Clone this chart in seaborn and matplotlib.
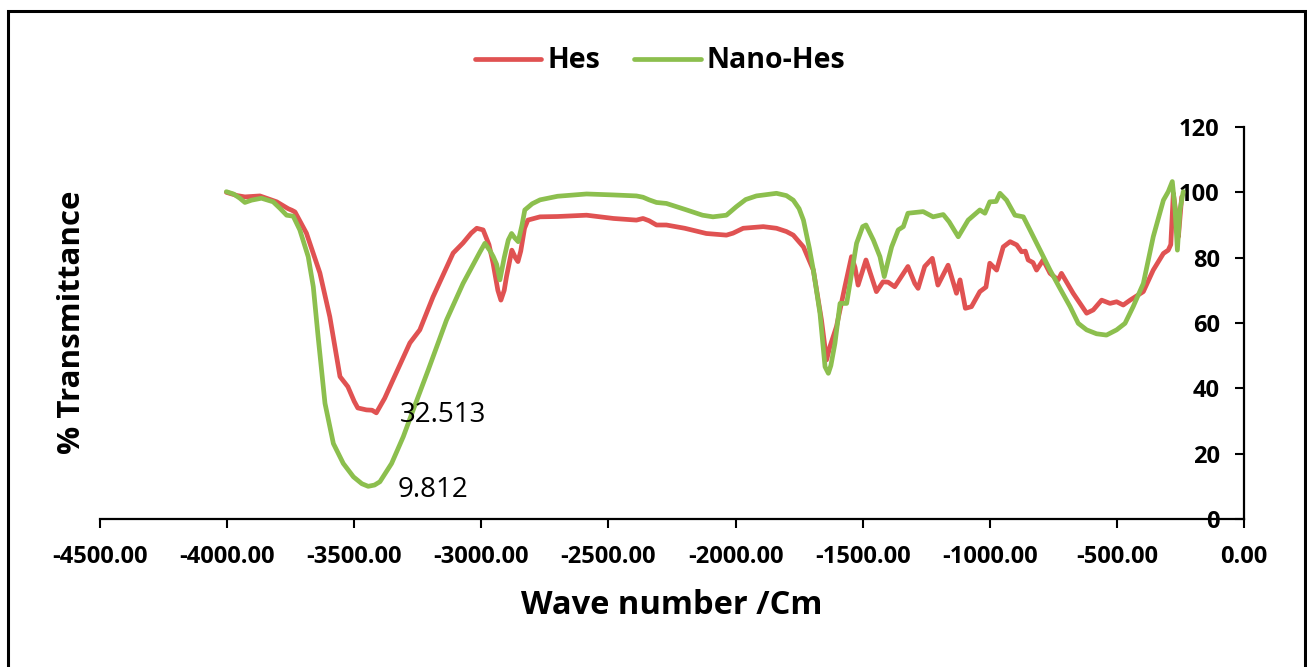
import matplotlib
matplotlib.use("Agg")
import matplotlib.pyplot as plt
import seaborn as sns
import pandas as pd
from matplotlib.patches import Rectangle

# ---------------- data ----------------
hes_x = [-4003, -3960, -3930, -3871, -3805, -3760, -3745, -3733, -3688, -3635, -3596, -3556,
         -3525, -3500, -3486, -3452, -3430, -3413, -3380, -3348, -3281, -3242, -3190, -3111,
         -3072, -3040, -3018, -2993, -2970, -2954, -2935, -2923, -2910, -2901, -2880, -2866,
         -2856, -2845, -2830, -2817, -2769, -2700, -2586, -2480, -2390, -2364, -2340, -2311,
         -2272, -2200, -2115, -2036, -2010, -1970, -1891, -1839, -1800, -1773, -1733, -1694,
         -1662, -1642, -1629, -1603, -1570, -1544, -1530, -1518, -1487, -1446, -1420, -1400,
         -1374, -1322, -1295, -1282, -1256, -1226, -1204, -1164, -1131, -1117, -1096, -1072,
         -1039, -1015, -1000, -973, -947, -920, -894, -875, -860, -849, -830, -816, -790,
         -763, -731, -718, -672, -645, -619, -593, -560, -527, -501, -475, -448, -396, -357,
         -317, -298, -288, -278, -265, -258, -245]
hes_y = [100, 99.0, 98.6, 98.9, 97.1, 95.0, 94.5, 94, 87.5, 75.3, 61.9, 43.6,
         40.5, 36, 34, 33.4, 33.3, 32.5, 37, 42.5, 53.9, 57.9, 68, 81.4,
         84.5, 87.5, 89, 88.5, 84, 78.4, 70, 67, 70, 74.2, 82.3, 80,
         78.8, 82, 89, 91.5, 92.5, 92.6, 93, 92, 91.5, 92, 91.3, 90,
         90, 89, 87.4, 86.9, 87.5, 89, 89.5, 89, 88, 86.9, 83.3, 76.2,
         60.9, 48.7, 52.7, 58.9, 71.1, 80.3, 77, 71.6, 79.3, 69.6, 72.6, 72.5,
         71.1, 77.3, 72.1, 70.6, 77.3, 79.8, 71.6, 77.7, 69.1, 73.2, 64.5, 65,
         69.6, 71, 78.3, 76.2, 83.3, 84.9, 83.9, 81.8, 82, 79.3, 78.5, 76.2, 79.3,
         75.2, 73.2, 75.2, 69.1, 66, 63, 64, 67, 66, 66.5, 65.5, 67, 69.6, 76.2,
         81.3, 82.3, 84, 99.7, 92, 86.4, 98.6]

nano_x = [-4003, -3975, -3950, -3930, -3904, -3865, -3819, -3792, -3766, -3740, -3714, -3681,
          -3661, -3642, -3615, -3582, -3543, -3503, -3470, -3445, -3420, -3399, -3353, -3307,
          -3268, -3209, -3137, -3072, -3005, -2986, -2965, -2953, -2940, -2927, -2910, -2894,
          -2881, -2868, -2855, -2840, -2829, -2800, -2769, -2700, -2586, -2480, -2390, -2364,
          -2340, -2311, -2272, -2200, -2130, -2089, -2036, -1997, -1960, -1918, -1839, -1800,
          -1773, -1750, -1733, -1710, -1694, -1668, -1648, -1635, -1625, -1609, -1589, -1563,
          -1524, -1500, -1487, -1458, -1432, -1415, -1400, -1386, -1360, -1340, -1322, -1262,
          -1223, -1183, -1160, -1124, -1085, -1039, -1019, -1000, -975, -960, -934, -901,
          -868, -842, -802, -763, -724, -684, -652, -619, -580, -541, -501, -468, -436, -396,
          -357, -317, -298, -282, -271, -262, -252, -239]
nano_y = [100.2, 99.5, 98.2, 96.9, 97.6, 98.2, 97.1, 95.1, 93, 92.7, 88.5, 80.3,
          71.1, 55.8, 35.4, 23.1, 17, 12.9, 10.8, 10.0, 10.4, 11.4, 17, 25.2,
          33.4, 45.6, 60.9, 72.1, 81.8, 84.4, 82, 80.3, 78, 73.2, 80, 85.4,
          87.4, 86, 84.9, 90, 94.6, 96.5, 97.7, 98.8, 99.5, 99.2, 98.9, 98.5,
          97.7, 96.9, 96.6, 94.8, 93, 92.5, 93, 95.6, 97.8, 98.9, 99.7, 99,
          97.6, 95, 91.5, 83, 76.2, 63, 46.6, 44.6, 47, 53.8, 66, 66,
          84.4, 89.5, 90, 85.4, 80.3, 74.2, 79, 83.3, 88.5, 89.5, 93.6, 94.1,
          92.5, 93.2, 91, 86.4, 91.5, 94.6, 93.6, 97.1, 97.2, 99.7, 97.6, 93,
          92.5, 88.5, 82.3, 76.2, 70.6, 65, 59.9, 57.9, 56.7, 56.3, 57.9, 59.9, 65, 72.1,
          86.4, 97.6, 100.2, 103.3, 94.6, 82.3, 94.6, 100.2]

series_names = ["Hes", "Nano-Hes"]
annot_text = ["32.513", "9.812"]
annot_x = [-3320, -3328]
annot_y = [31.8, 9.0]
x_ticks = [-4500, -4000, -3500, -3000, -2500, -2000, -1500, -1000, -500, 0]
y_ticks = [0, 20, 40, 60, 80, 100, 120]

# ---------------- style ----------------
sns.set_style("white")
plt.rcParams["font.family"] = ["Open Sans", "DejaVu Sans"]
plt.rcParams["text.color"] = "black"
plt.rcParams["axes.labelcolor"] = "black"

RED = "#E05252"
GREEN = "#8CBF4E"

W, H = 1307, 667
fig = plt.figure(figsize=(W / 100, H / 100), dpi=100)
ax = fig.add_axes([100 / W, 148 / H, 1144 / W, 392 / H])

df_h = pd.DataFrame({"x": hes_x, "y": hes_y})
df_n = pd.DataFrame({"x": nano_x, "y": nano_y})
sns.lineplot(data=df_h, x="x", y="y", ax=ax, color=RED, lw=3.4, label=series_names[0],
             solid_capstyle="round", solid_joinstyle="round")
sns.lineplot(data=df_n, x="x", y="y", ax=ax, color=GREEN, lw=3.4, label=series_names[1],
             solid_capstyle="round", solid_joinstyle="round")

ax.set_xlim(-4500, 0)
ax.set_ylim(0, 120)
ax.set_xticks(x_ticks)
ax.set_xticklabels([f"{v:.2f}" for v in x_ticks])
ax.set_yticks(y_ticks)
ax.set_yticklabels([str(v) for v in y_ticks])
ax.set_xlabel("")
ax.set_ylabel("")

for s in ["top", "right"]:
    ax.spines[s].set_visible(False)
ax.spines["left"].set_position(("data", 0))
for s in ["left", "bottom"]:
    ax.spines[s].set_linewidth(1.6)
    ax.spines[s].set_color("black")

ax.tick_params(axis="both", direction="out", length=6.5, width=1.5, color="black",
               bottom=True, left=True, top=False, right=False)
ax.tick_params(axis="x", pad=12)
ax.tick_params(axis="y", pad=11)
for lab in ax.get_xticklabels() + ax.get_yticklabels():
    lab.set_fontsize(17)
    lab.set_fontweight("bold")
    lab.set_color("black")

for t, xx, yy in zip(annot_text, annot_x, annot_y):
    ax.text(xx, yy, t, fontsize=20, ha="left", va="center", color="black")

ax.get_legend().remove()
handles, labels = ax.get_legend_handles_labels()
leg = fig.legend(handles, labels, loc="center", bbox_to_anchor=(660 / W, 1 - 61 / H), ncol=2,
                 frameon=False, handlelength=2.35, handletextpad=0.2, columnspacing=1.2,
                 prop={"size": 20.5, "weight": "bold"})
for t in leg.get_texts():
    t.set_color("black")

fig.text(672 / W, 1 - 606 / H, "Wave number /Cm", ha="center", va="center",
         fontsize=23.5, fontweight="bold", color="black")
fig.text(72 / W, 1 - 322 / H, "% Transmittance", ha="center", va="center",
         rotation=90, fontsize=22.5, fontweight="bold", color="black")

fig.add_artist(Rectangle((8 / W, -0.02), (1305 - 8) / W, 1 - 11 / H + 0.02,
                         transform=fig.transFigure, fill=False, lw=2.2, ec="black"))

fig.savefig("out.png", dpi=100)
